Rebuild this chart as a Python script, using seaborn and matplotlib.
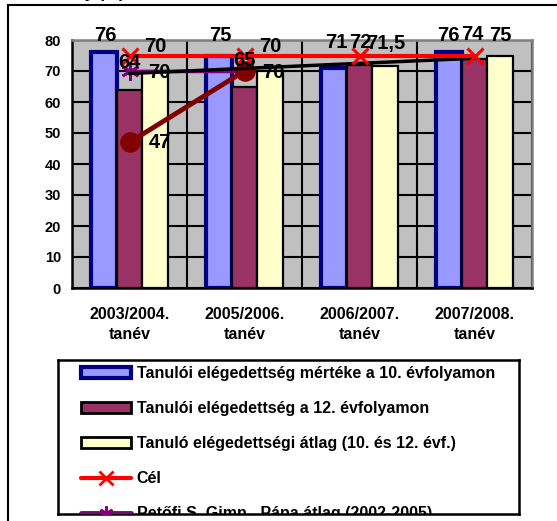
import numpy as np
import pandas as pd
import matplotlib
matplotlib.use("Agg")
import matplotlib.pyplot as plt
import seaborn as sns
from matplotlib.patches import Patch, Rectangle
from matplotlib.lines import Line2D

# ---------------- data ----------------
categories = ["2003/2004.\ntanév", "2005/2006.\ntanév", "2006/2007.\ntanév", "2007/2008.\ntanév"]
series_names = [
    "Tanulói elégedettség mértéke a 10. évfolyamon",
    "Tanulói elégedettség a 12. évfolyamon",
    "Tanuló elégedettségi átlag (10. és 12. évf.)",
]
grade10 = [76, 75, 71, 76]
grade12 = [64, 65, 72, 74]
average = [70, 70, 71.5, 75]
goal = [75, 75, 75, 75]
goal_name = "Cél"
petofi = [70, 70]
petofi_name = "Petőfi S. Gimn., Pápa átlag (2002-2005)"
other = [47, 70]
trend_y = [69.2, 74.1]
trend_idx = [0, 3]
yticks = [0, 10, 20, 30, 40, 50, 60, 70, 80]

# ---------------- style ----------------
sns.set_theme(style="white")
plt.rcParams["font.family"] = ["Liberation Sans", "DejaVu Sans"]
plt.rcParams["font.weight"] = "bold"
plt.rcParams["text.color"] = "black"
plt.rcParams["xtick.color"] = "black"
plt.rcParams["ytick.color"] = "black"
plt.rcParams["axes.labelcolor"] = "black"

W, H = 557, 521
fig = plt.figure(figsize=(W / 100, H / 100), dpi=100)
fig.patch.set_facecolor("white")

def fx(px):
    return px / W

def fy(py):
    return 1 - py / H

ax = fig.add_axes([fx(72), fy(288), fx(532) - fx(72), fy(40) - fy(288)])
ax.set_facecolor("#C0C0C0")

df = pd.DataFrame({
    "cat": categories * 3,
    "val": grade10 + grade12 + average,
    "series": [series_names[0]] * 4 + [series_names[1]] * 4 + [series_names[2]] * 4,
})
fills = ["#9999FF", "#993366", "#FFFFCC"]
edges = ["#000080", "#000000", "#000000"]
edge_w = [3.0, 1.6, 1.6]
sns.barplot(data=df, x="cat", y="val", hue="series", hue_order=series_names,
            palette=fills, width=0.675, gap=0, saturation=1, legend=False,
            ax=ax, zorder=2)
for cont, ec, lw in zip(ax.containers, edges, edge_w):
    for bar in cont:
        bar.set_edgecolor(ec)
        bar.set_linewidth(lw)

xpos = np.arange(len(categories))
sns.lineplot(x=xpos[: len(petofi)], y=petofi, color="#800080", lw=2.5,
             marker=(6, 2, 0), markersize=13, markeredgewidth=2,
             markeredgecolor="#800080", sort=False, ax=ax, zorder=3)
sns.lineplot(x=xpos[: len(other)], y=other, color="#800000", lw=3.5,
             marker="o", markersize=14, markeredgecolor="#800000",
             sort=False, ax=ax, zorder=4)
sns.lineplot(x=trend_idx, y=trend_y, color="black", lw=2.5, sort=False,
             ax=ax, zorder=5)
sns.lineplot(x=xpos, y=goal, color="#FF0000", lw=3, marker="x",
             markersize=12, markeredgewidth=2.2, markeredgecolor="#FF0000",
             sort=False, ax=ax, zorder=6)

# data labels
lab_kw = dict(textcoords="offset pixels", ha="center", va="center",
              fontsize=14.5, fontweight="bold", color="black", zorder=10,
              annotation_clip=False)
bar_offsets = [
    [(2, 17), (2, 20), (3, 25), (0, 17)],
    [(0, 27), (0, 26), (1, 22), (-2, 24)],
    [(4, -1), (3, -1), (0, 23), (0, 20)],
]
for k, (cont, vals) in enumerate(zip(ax.containers, [grade10, grade12, average])):
    for j, (bar, v) in enumerate(zip(cont, vals)):
        cx = bar.get_x() + bar.get_width() / 2
        txt = f"{v:g}".replace(".", ",")
        ax.annotate(txt, (cx, bar.get_height()), xytext=bar_offsets[k][j], **lab_kw)
for j, v in enumerate(petofi):
    ax.annotate(f"{v:g}", (xpos[j], v), xytext=(26, 24), **lab_kw)
ax.annotate(f"{other[0]:g}", (xpos[0], other[0]), xytext=(30, 0), **lab_kw)

# axes
ax.set_xlim(-0.5, len(categories) - 0.5)
ax.set_ylim(0, 80)
ax.set_yticks(yticks)
ax.set_yticklabels([str(t) for t in yticks], fontsize=10.5, fontweight="bold")
ax.set_xticks(xpos)
ax.set_xticklabels(categories, fontsize=11.5, fontweight="bold", linespacing=1.42)
ax.set_xticks(np.arange(len(categories) + 1) - 0.5, minor=True)
ax.tick_params(axis="x", which="major", length=0, pad=13.5)
ax.tick_params(axis="x", which="minor", length=5, width=1.5, color="black", direction="out")
ax.tick_params(axis="y", length=5, width=1.5, color="black", direction="out", pad=3)
ax.grid(axis="y", which="major", color="black", lw=1.5, zorder=0)
ax.grid(axis="x", which="minor", color="black", lw=1.5, zorder=0)
ax.set_axisbelow(True)
ax.set_xlabel("")
ax.set_ylabel("")
for s in ["left", "bottom"]:
    ax.spines[s].set_color("black")
    ax.spines[s].set_linewidth(1.8)
for s in ["top", "right"]:
    ax.spines[s].set_color("#808080")
    ax.spines[s].set_linewidth(1.8)

# outer frame and cut-off title
fig.add_artist(Rectangle((fx(8), -0.2), 1.2, fy(5) + 0.2, transform=fig.transFigure,
                         fill=False, edgecolor="black", lw=1.5))
fig.text(fx(125), fy(-2), "Arány (%)", ha="right", va="baseline",
         fontsize=12, fontweight="bold")

# legend box
lax = fig.add_axes([fx(58), fy(514), fx(519) - fx(58), fy(360) - fy(514)])
lax.set_xticks([])
lax.set_yticks([])
lax.set_facecolor("white")
for s in lax.spines.values():
    s.set_color("black")
    s.set_linewidth(1.8)

handles = [
    Patch(facecolor=fills[0], edgecolor=edges[0], lw=3),
    Patch(facecolor=fills[1], edgecolor=edges[1], lw=2),
    Patch(facecolor=fills[2], edgecolor=edges[2], lw=2),
    Line2D([], [], color="#FF0000", lw=3, marker="x", markersize=10,
           markeredgewidth=2),
    Line2D([], [], color="#800080", lw=3.5, marker=(6, 2, 0), markersize=10,
           markeredgewidth=2),
]
labels = series_names + [goal_name, petofi_name]
leg = lax.legend(handles, labels, loc="upper left", bbox_to_anchor=(0.0406, 0.99),
                 frameon=False, prop=dict(size=11.5, weight="bold"),
                 handlelength=3.1, handleheight=0.7, handletextpad=0.375,
                 labelspacing=1.26, borderaxespad=0.0, borderpad=0.27,
                 markerscale=1.0)
for art in leg.findobj():
    if art is leg:
        continue
    art.set_clip_box(lax.bbox)
    art.set_clip_on(True)

fig.savefig("out.png", dpi=100, facecolor="white")
